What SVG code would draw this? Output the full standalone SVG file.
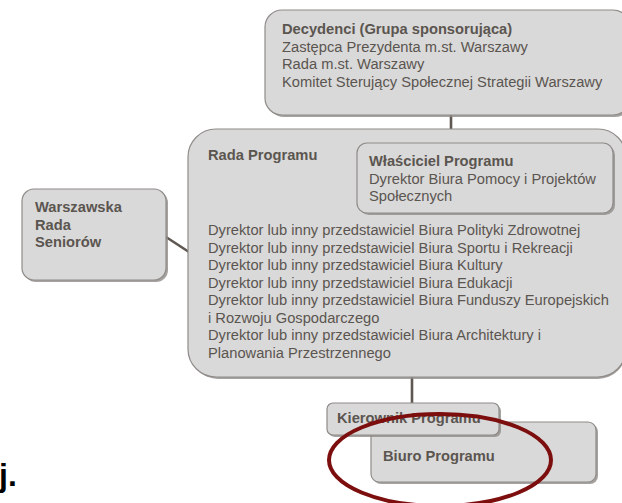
<svg xmlns="http://www.w3.org/2000/svg" width="622" height="503" viewBox="0 0 622 503">
<style>
.box{fill:#d9d9d9;stroke:#8f8b88;stroke-width:1.2}
.sh{fill:#8f8b88;opacity:0.8}
.t{font-family:"Liberation Sans",Arial,sans-serif;font-size:14.7px;fill:#5b5550}
.b{font-weight:bold}
.con{stroke:#5f5852;stroke-width:2.6;fill:none}
</style>
<rect width="622" height="503" fill="#ffffff"/>
<g id="connectors">
<line class="con" x1="451" y1="115" x2="451" y2="130"/>
<line class="con" x1="166" y1="237" x2="189" y2="252"/>
<line class="con" x1="412" y1="377" x2="412" y2="404"/>
</g>
<g id="decydenci">
<rect class="sh" x="267" y="12" width="365" height="105" rx="17"/>
<rect class="box" x="265" y="10" width="365" height="105" rx="17"/>
<text class="t" x="282" y="34"><tspan class="b">Decydenci (Grupa sponsorująca)</tspan><tspan x="282" dy="17.6">Zastępca Prezydenta m.st. Warszawy</tspan><tspan x="282" dy="17.6">Rada m.st. Warszawy</tspan><tspan x="282" dy="17.6">Komitet Sterujący Społecznej Strategii Warszawy</tspan></text>
</g>
<g id="rada-programu">
<rect class="sh" x="190" y="131" width="436" height="248" rx="28"/>
<rect class="box" x="188" y="129" width="438" height="248" rx="28"/>
<text class="t b" x="208" y="160">Rada Programu</text>
<text class="t" x="208" y="235"><tspan>Dyrektor lub inny przedstawiciel Biura Polityki Zdrowotnej</tspan><tspan x="208" dy="17.5">Dyrektor lub inny przedstawiciel Biura Sportu i Rekreacji</tspan><tspan x="208" dy="17.5">Dyrektor lub inny przedstawiciel Biura Kultury</tspan><tspan x="208" dy="17.5">Dyrektor lub inny przedstawiciel Biura Edukacji</tspan><tspan x="208" dy="17.5">Dyrektor lub inny przedstawiciel Biura Funduszy Europejskich</tspan><tspan x="208" dy="17.5">i Rozwoju Gospodarczego</tspan><tspan x="208" dy="17.5">Dyrektor lub inny przedstawiciel Biura Architektury i</tspan><tspan x="208" dy="17.5">Planowania Przestrzennego</tspan></text>
</g>
<g id="wlasciciel">
<rect class="sh" x="359" y="145" width="256" height="70" rx="10"/>
<rect class="box" x="357" y="143" width="256" height="70" rx="10"/>
<text class="t" x="369" y="166"><tspan class="b">Właściciel Programu</tspan><tspan x="369" dy="17.5">Dyrektor Biura Pomocy i Projektów</tspan><tspan x="369" dy="17.5">Społecznych</tspan></text>
</g>
<g id="warszawska-rada-seniorow">
<rect class="sh" x="24" y="191" width="144" height="91" rx="12"/>
<rect class="box" x="22" y="189" width="144" height="91" rx="12"/>
<text class="t b" x="35" y="212"><tspan>Warszawska</tspan><tspan x="35" dy="17.5">Rada</tspan><tspan x="35" dy="17.5">Seniorów</tspan></text>
</g>
<g id="biuro-programu">
<rect class="sh" x="373" y="424" width="225" height="60" rx="8"/>
<rect class="box" x="371" y="422" width="225" height="60" rx="8"/>
<text class="t b" x="383" y="461">Biuro Programu</text>
</g>
<g id="kierownik-programu">
<rect class="sh" x="329" y="405" width="172" height="32" rx="6"/>
<rect class="box" x="327" y="403" width="172" height="32" rx="6"/>
<text class="t b" x="337" y="423">Kierownik Programu</text>
</g>
<ellipse cx="440" cy="460" rx="111" ry="46" fill="none" stroke="#7d0e0e" stroke-width="4"/>
<text x="-1" y="486" font-family="'Liberation Sans',Arial,sans-serif" font-size="32" font-weight="bold" fill="#000000">j.</text>
</svg>
